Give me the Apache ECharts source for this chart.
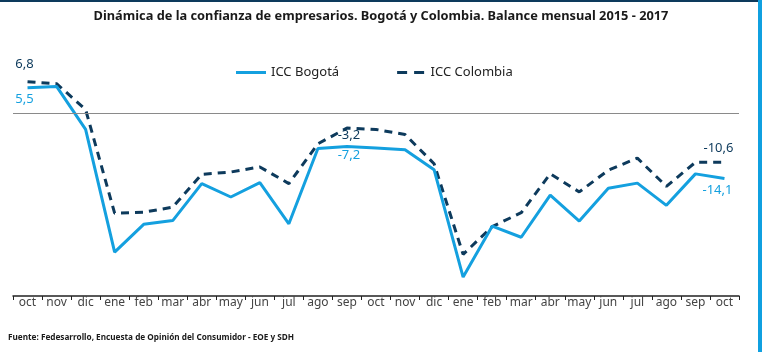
<!DOCTYPE html>
<html>
<head>
<meta charset="utf-8">
<script src="https://cdn.jsdelivr.net/npm/echarts@6/dist/echarts.min.js"></script>
<style>
  html, body { margin: 0; padding: 0; background: #fff; }
  #wrap { position: relative; width: 762px; height: 352px; overflow: hidden; }
  #chart { width: 762px; height: 352px; }
  .topbar { position: absolute; left: 0; top: 0; width: 759px; height: 2px; background: #0d3a5c; }
  .sidebar { position: absolute; left: 758px; top: 0; width: 4px; height: 352px; background: #10a0e0; }
</style>
</head>
<body>
<div id="wrap">
  <div id="chart"></div>
  <div class="topbar"></div>
  <div class="sidebar"></div>
</div>
<script>
// meses oct 2015 - oct 2017
const months = ["oct", "nov", "dic", "ene", "feb", "mar", "abr", "may", "jun", "jul", "ago", "sep",
  "oct", "nov", "dic", "ene", "feb", "mar", "abr", "may", "jun", "jul", "ago", "sep", "oct"];

const iccBogota = [5.5, 5.8, -3.5, -30.0, -24.0, -23.2, -15.2, -18.1, -15.0, -23.9, -7.6, -7.2,
  -7.5, -7.9, -12.2, -35.4, -24.4, -26.8, -17.7, -23.3, -16.2, -15.1, -19.9, -13.1, -14.1];

const iccColombia = [6.8, 6.4, 0.8, -21.6, -21.4, -20.3, -13.2, -12.7, -11.6, -15.2, -6.6, -3.2,
  -3.5, -4.6, -10.9, -30.5, -24.5, -21.5, -13.1, -17.0, -12.3, -9.7, -15.8, -10.6, -10.6];

// puntos con etiqueta
const labeledBogota = [0, 11, 24];
const labeledColombia = [0, 11, 24];

const blue = "#14a0df";
const navy = "#0d3a5c";
const font = "Noto Sans";

function fmt(v) {
  return v.toFixed(1).replace(".", ",");
}

function buildData(values, labeled, labelOpts) {
  return values.map((v, i) => {
    const k = labeled.indexOf(i);
    if (k < 0) return v;
    return { value: v, label: Object.assign({ show: true }, labelOpts[k]) };
  });
}

const labelBase = { fontFamily: font, fontSize: 13, lineHeight: 14, formatter: p => fmt(p.value) };

const bogData = buildData(iccBogota, labeledBogota, [
  Object.assign({}, labelBase, { position: "bottom", distance: 4, offset: [-3, 0], color: blue }),
  Object.assign({}, labelBase, { position: "bottom", distance: 2, offset: [2, 0], color: blue }),
  Object.assign({}, labelBase, { position: "bottom", distance: 5, offset: [-7, 0], color: blue })
]);

const colData = buildData(iccColombia, labeledColombia, [
  Object.assign({}, labelBase, { position: "top", distance: 11, offset: [-3, 0], color: navy }),
  Object.assign({}, labelBase, { position: "bottom", distance: 0, offset: [2, 0], color: navy }),
  Object.assign({}, labelBase, { position: "top", distance: 7, offset: [-6, 0], color: navy })
]);

const myChart = echarts.init(document.getElementById("chart"));
const option = {
  backgroundColor: "#fff",
  animation: false,
  title: [
    {
      text: "Dinámica de la confianza de empresarios. Bogotá y Colombia. Balance mensual 2015 - 2017",
      left: "center",
      top: 10,
      padding: 0,
      textStyle: { fontFamily: font, fontSize: 12.8, fontWeight: "bold", color: "#1a1a1a" }
    },
    {
      text: "Fuente: Fedesarrollo, Encuesta de Opinión del Consumidor - EOE y SDH",
      left: 8,
      top: 334,
      padding: 0,
      textStyle: { fontFamily: font, fontSize: 8.2, fontWeight: "bold", color: "#1a1a1a" }
    }
  ],
  legend: {
    left: 236,
    top: 66,
    padding: 0,
    itemWidth: 30,
    itemHeight: 3,
    itemGap: 58,
    textStyle: { fontFamily: font, fontSize: 13, color: "#222" },
    data: [
      { name: "ICC Bogotá", icon: "path://M0,0H30V3H0Z", itemStyle: { color: blue } },
      { name: "ICC Colombia", icon: "path://M0,0H10V3H0ZM17,0H27V3H17Z", itemStyle: { color: navy } }
    ]
  },
  grid: { left: 13, right: 23, top: 67, height: 229 },
  xAxis: {
    type: "category",
    data: months,
    boundaryGap: true,
    axisLine: { onZero: false, lineStyle: { color: "#222", width: 1.5 } },
    axisTick: { show: true, length: 4, lineStyle: { color: "#222" } },
    axisLabel: { margin: 1, fontFamily: font, fontSize: 12, color: "#444", interval: 0 },
    splitLine: { show: false }
  },
  yAxis: {
    type: "value",
    min: -39.5,
    max: 10,
    show: false,
    splitLine: { show: false }
  },
  series: [
    {
      name: "ICC Bogotá",
      type: "line",
      data: bogData,
      symbol: "circle",
      symbolSize: 0,
      showSymbol: true,
      z: 3,
      lineStyle: { color: blue, width: 3 },
      itemStyle: { color: blue },
      markLine: {
        silent: true,
        symbol: "none",
        label: { show: false },
        lineStyle: { color: "#8a8a8a", width: 1, type: "solid" },
        data: [{ yAxis: 0 }]
      }
    },
    {
      name: "ICC Colombia",
      type: "line",
      data: colData,
      symbol: "circle",
      symbolSize: 0,
      showSymbol: true,
      z: 2,
      lineStyle: { color: navy, width: 3, type: [8, 6] },
      itemStyle: { color: navy }
    }
  ]
};
myChart.setOption(option);
</script>
</body>
</html>
